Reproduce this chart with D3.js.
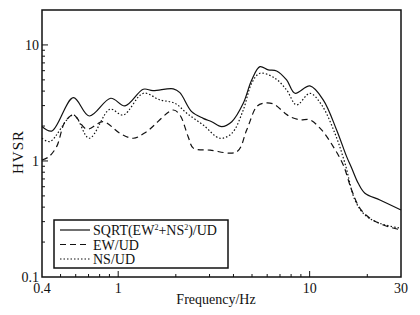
<!DOCTYPE html>
<html>
<head>
<meta charset="utf-8">
<script src="https://cdn.jsdelivr.net/npm/d3@7"></script>
<style>
  body { margin: 0; background: #fff; }
</style>
</head>
<body>
<div id="chart"></div>
<script>
// values (frequency in Hz, HVSR ratio)
const sqrtFreq = [0.4, 0.45, 0.583, 0.706, 0.914, 1.085, 1.352, 1.519, 1.94, 2.10, 2.42, 2.78, 3.08, 3.47, 3.92, 4.50, 4.98, 5.50, 6.08, 6.72, 7.58, 8.38, 10.03, 11.77, 13.83, 15.6, 16.57, 17.94, 19.44, 23.28, 30]
const sqrtVal = [1.98, 1.81, 3.51, 2.44, 3.47, 2.98, 4.15, 4.04, 4.18, 3.88, 2.66, 2.33, 2.18, 1.98, 2.18, 3.14, 4.99, 6.50, 6.09, 5.97, 4.99, 3.83, 4.43, 3.36, 1.85, 1.09, 0.87, 0.642, 0.527, 0.461, 0.378]

const ewFreq = [0.4, 0.432, 0.477, 0.528, 0.583, 0.685, 0.836, 1.022, 1.199, 1.408, 1.94, 2.10, 2.32, 2.47, 3.02, 4.16, 4.69, 5.29, 5.72, 6.46, 7.43, 7.89, 8.90, 10.03, 11.55, 13.28, 14.98, 16.57, 18.31, 20.64, 24.23, 30]
const ewVal = [1.02, 1.08, 1.33, 2.18, 2.49, 1.88, 2.18, 1.73, 1.57, 1.79, 2.75, 2.49, 1.62, 1.29, 1.24, 1.20, 1.85, 2.94, 3.14, 3.10, 2.58, 2.41, 2.26, 2.26, 1.85, 1.33, 0.924, 0.562, 0.391, 0.321, 0.281, 0.254]

const nsFreq = [0.4, 0.44, 0.583, 0.706, 0.906, 1.063, 1.352, 1.653, 1.98, 2.28, 2.78, 3.40, 3.92, 4.50, 4.98, 5.50, 6.59, 7.58, 8.55, 10.03, 11.55, 13.55, 15.29, 17.24, 19.44, 23.28, 30]
const nsVal = [1.57, 1.47, 2.49, 1.57, 2.79, 2.49, 3.83, 3.36, 3.14, 2.58, 2.04, 1.57, 1.73, 2.75, 4.68, 5.70, 5.16, 4.09, 3.04, 3.83, 3.04, 1.73, 0.955, 0.461, 0.342, 0.290, 0.263]

const xTickLabels = ['0.4', '1', '10', '30']
const xTickValues = [0.4, 1, 10, 30]
const yTickLabels = ['0.1', '1', '10']
const yTickValues = [0.1, 1, 10]

const width = 420
const height = 315
const margin = { top: 10, right: 19, bottom: 38, left: 42 }
const FONT = "'Liberation Serif', 'Times New Roman', serif"

const svg = d3.select('#chart').append('svg')
  .attr('width', width)
  .attr('height', height)
  .attr('font-family', FONT)

const x = d3.scaleLog().domain([0.4, 30]).range([margin.left, width - margin.right])
const y = d3.scaleLog().domain([0.1, 20]).range([height - margin.bottom, margin.top])

// minor ticks for each decade
const xMinor = []
for (const base of [0.1, 1, 10]) {
  for (let k = 2; k <= 9; k++) {
    const v = base * k
    if (v > 0.4 && v < 30 && v !== 1 && v !== 10) xMinor.push(v)
  }
}
const yMinor = []
for (const base of [0.1, 1, 10]) {
  for (let k = 2; k <= 9; k++) {
    const v = base * k
    if (v < 20) yMinor.push(v)
  }
}

const tickG = svg.append('g').attr('stroke', '#111').attr('stroke-width', 1)
// x ticks point inward (up)
tickG.selectAll('.xmin').data(xMinor).join('line')
  .attr('x1', d => x(d)).attr('x2', d => x(d))
  .attr('y1', y(0.1)).attr('y2', y(0.1) - 3)
tickG.selectAll('.xmaj').data([1, 10]).join('line')
  .attr('x1', d => x(d)).attr('x2', d => x(d))
  .attr('y1', y(0.1)).attr('y2', y(0.1) - 6)
// y ticks point inward (right)
tickG.selectAll('.ymin').data(yMinor).join('line')
  .attr('x1', x(0.4)).attr('x2', x(0.4) + 3)
  .attr('y1', d => y(d)).attr('y2', d => y(d))
tickG.selectAll('.ymaj').data([1, 10]).join('line')
  .attr('x1', x(0.4)).attr('x2', x(0.4) + 6)
  .attr('y1', d => y(d)).attr('y2', d => y(d))

svg.selectAll('.xlab').data(xTickValues).join('text')
  .attr('x', d => x(d))
  .attr('y', y(0.1) + 16)
  .attr('text-anchor', 'middle')
  .attr('font-size', 14)
  .attr('fill', '#111')
  .text((d, i) => xTickLabels[i])

svg.selectAll('.ylab').data(yTickValues).join('text')
  .attr('x', x(0.4) - 3)
  .attr('y', d => y(d) + 5)
  .attr('text-anchor', 'end')
  .attr('font-size', 14)
  .attr('fill', '#111')
  .text((d, i) => yTickLabels[i])

svg.append('text')
  .attr('x', 216)
  .attr('y', height - 11)
  .attr('text-anchor', 'middle')
  .attr('font-size', 14)
  .attr('fill', '#111')
  .text('Frequency/Hz')

svg.append('text')
  .attr('transform', 'translate(23, 152) rotate(-90)')
  .attr('text-anchor', 'middle')
  .attr('font-size', 15)
  .attr('letter-spacing', 1)
  .attr('fill', '#111')
  .text('HVSR')

const line = d3.line()
  .x(d => x(d[0]))
  .y(d => y(d[1]))
  .curve(d3.curveCatmullRom.alpha(0.5))

const series = [
  { f: sqrtFreq, v: sqrtVal, dash: null },
  { f: ewFreq, v: ewVal, dash: '6,4' },
  { f: nsFreq, v: nsVal, dash: '1.5,2' }
]

svg.append('g').selectAll('path').data(series).join('path')
  .attr('d', s => line(s.f.map((f, i) => [f, s.v[i]])))
  .attr('fill', 'none')
  .attr('stroke', '#111')
  .attr('stroke-width', 1.2)
  .attr('stroke-dasharray', s => s.dash)

// frame
svg.append('rect')
  .attr('x', margin.left)
  .attr('y', margin.top)
  .attr('width', width - margin.left - margin.right)
  .attr('height', height - margin.top - margin.bottom)
  .attr('fill', 'none')
  .attr('stroke', '#111')
  .attr('stroke-width', 1.5)

// legend
const legend = svg.append('g').attr('transform', 'translate(54, 220)')
legend.append('rect')
  .attr('width', 174).attr('height', 48)
  .attr('fill', '#fff')
  .attr('stroke', '#111')
  .attr('stroke-width', 1.5)

const legendRows = legend.selectAll('.row').data(series).join('g')
  .attr('transform', (d, i) => `translate(0, ${10 + i * 14.5})`)
legendRows.append('line')
  .attr('x1', 6).attr('x2', 36)
  .attr('stroke', '#111').attr('stroke-width', 1.2)
  .attr('stroke-dasharray', d => d.dash)
const legendText = legendRows.append('text')
  .attr('x', 39).attr('y', 5)
  .attr('font-size', 14)
  .attr('fill', '#111')
legendText.filter((d, i) => i === 0).each(function () {
  const t = d3.select(this)
  t.append('tspan').text('SQRT(EW')
  t.append('tspan').attr('dy', -5).attr('font-size', 8).text('2')
  t.append('tspan').attr('dy', 5).text('+NS')
  t.append('tspan').attr('dy', -5).attr('font-size', 8).text('2')
  t.append('tspan').attr('dy', 5).text(')/UD')
})
legendText.filter((d, i) => i === 1).text('EW/UD')
legendText.filter((d, i) => i === 2).text('NS/UD')
</script>
</body>
</html>
